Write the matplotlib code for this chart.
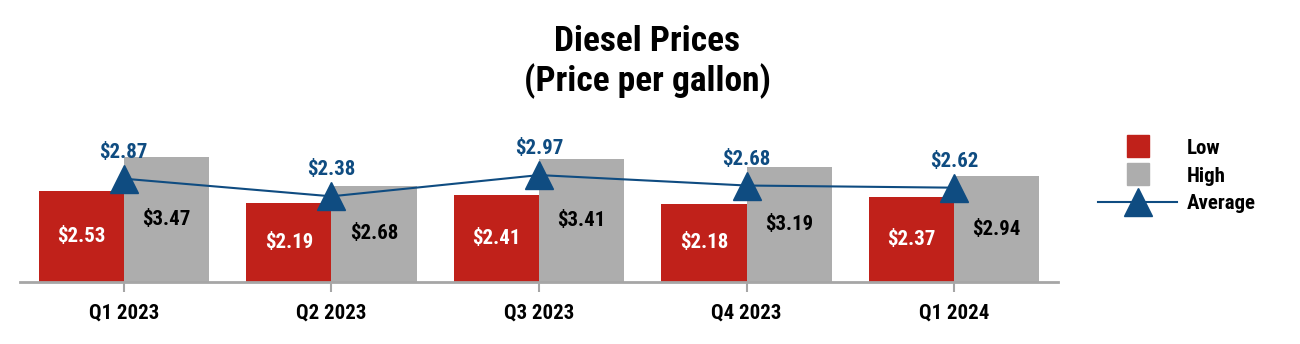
import matplotlib
matplotlib.use("Agg")
import matplotlib.pyplot as plt
from matplotlib.lines import Line2D
import numpy as np

categories = ["Q1 2023", "Q2 2023", "Q3 2023", "Q4 2023", "Q1 2024"]
low = [2.53, 2.19, 2.41, 2.18, 2.37]
high = [3.47, 2.68, 3.41, 3.19, 2.94]
average = [2.87, 2.38, 2.97, 2.68, 2.62]

RED = "#C0211A"
GREY = "#ADADAD"
BLUE = "#0F4C81"
AXIS = "#A6A6A6"

plt.rcParams["font.family"] = ["Liberation Sans Narrow", "Roboto Condensed", "Liberation Sans", "DejaVu Sans"]
plt.rcParams["font.weight"] = "bold"

FS = 15

fig = plt.figure(figsize=(13, 3.44), dpi=100)
W, H = 1300, 344
left, right, bottom_px, top_px = 20, 1058, 282, 138
ax = fig.add_axes([left / W, (H - bottom_px) / H, (right - left) / W, (bottom_px - top_px) / H])

x = np.arange(len(categories))
bw = 0.41
ax.bar(x - bw / 2, low, bw, color=RED, zorder=2)
ax.bar(x + bw / 2, high, bw, color=GREY, zorder=2)
ax.plot(x, average, color=BLUE, lw=1.5, marker="^", markersize=20, zorder=3)

for xi, v in zip(x, low):
    ax.text(xi - bw / 2, v / 2, f"${v:.2f}", ha="center", va="center", color="white",
            fontsize=FS, fontweight="bold", zorder=4)
for xi, v in zip(x, high):
    ax.text(xi + bw / 2, v / 2, f"${v:.2f}", ha="center", va="center", color="black",
            fontsize=FS, fontweight="bold", zorder=4)
for xi, v in zip(x, average):
    ax.annotate(f"${v:.2f}", (xi, v), xytext=(0, 19), textcoords="offset points",
                ha="center", va="center", color=BLUE, fontsize=FS, fontweight="bold", zorder=4)

ax.set_xlim(-0.5, len(categories) - 0.5)
ax.set_ylim(0, 4.0)
ax.set_xticks(x)
ax.set_xticklabels(categories, fontsize=FS, fontweight="bold")
ax.tick_params(axis="x", length=7, width=1.5, color=AXIS, pad=8.5)
ax.set_yticks([])
for s in ["top", "right", "left"]:
    ax.spines[s].set_visible(False)
ax.spines["bottom"].set_color(AXIS)
ax.spines["bottom"].set_linewidth(2)

fig.text(0.498, 1 - 62 / H, "Diesel Prices\n(Price per gallon)", ha="center", va="center",
         fontsize=25.5, fontweight="bold", linespacing=1.2)

handles = [
    Line2D([], [], marker="s", linestyle="None", color=RED, markersize=16.5),
    Line2D([], [], marker="s", linestyle="None", color=GREY, markersize=16.5),
    Line2D([], [], marker="^", color=BLUE, lw=1.5, markersize=20),
]
leg = fig.legend(handles, ["Low", "High", "Average"], loc="center left",
                 bbox_to_anchor=(1098 / W, 1 - 176 / H), bbox_transform=fig.transFigure,
                 frameon=False, fontsize=FS, handlelength=3.8, handletextpad=0.45,
                 labelspacing=0.42, borderpad=0, borderaxespad=0)
for t in leg.get_texts():
    t.set_fontweight("bold")

fig.savefig("out.png", dpi=100)
